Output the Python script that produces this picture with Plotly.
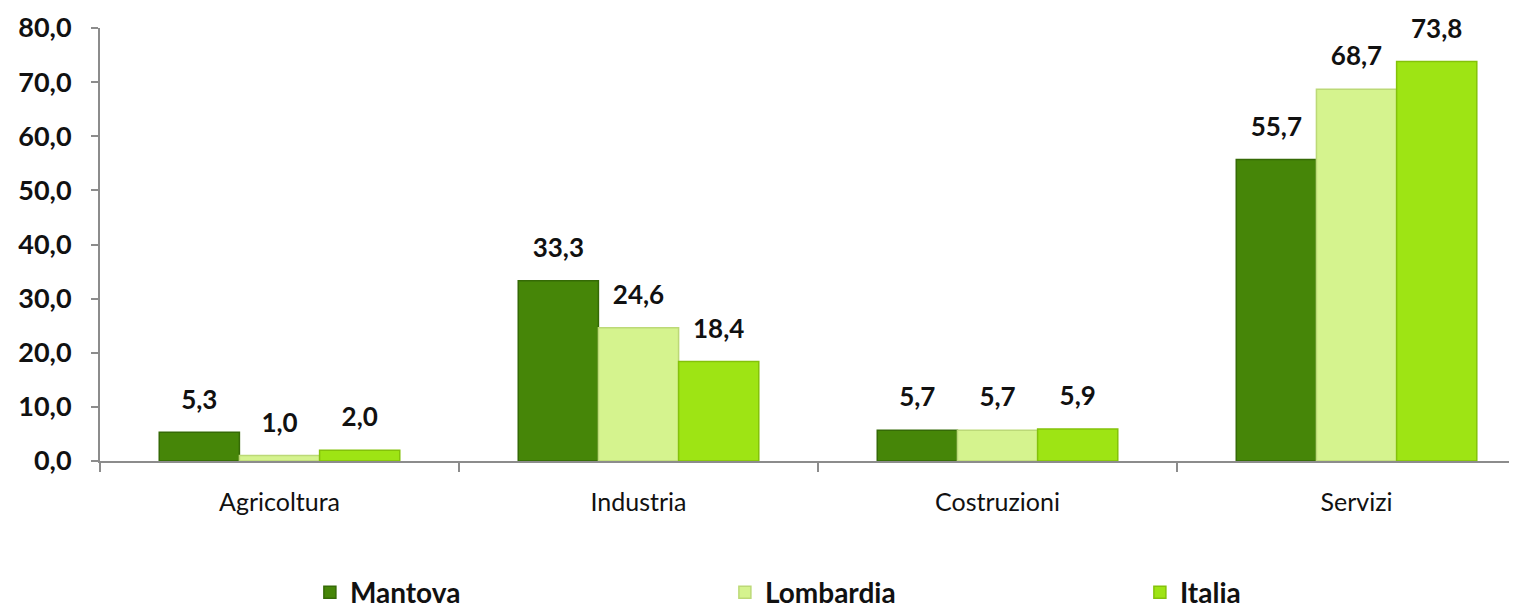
import plotly.graph_objects as go

categories = ["Agricoltura", "Industria", "Costruzioni", "Servizi"]
mantova = [5.3, 33.3, 5.7, 55.7]
lombardia = [1.0, 24.6, 5.7, 68.7]
italia = [2.0, 18.4, 5.9, 73.8]
y_ticks = [0, 10, 20, 30, 40, 50, 60, 70, 80]

series = [
    ("Mantova", mantova, "#468608", "#356a06"),
    ("Lombardia", lombardia, "#d5f38e", "#bcd977"),
    ("Italia", italia, "#9ee414", "#84c20a"),
]

FONT = "Lato"

fig = go.Figure()
for name, vals, col, line in series:
    fig.add_trace(go.Bar(
        name=name,
        x=categories,
        y=vals,
        offsetgroup=name,
        marker=dict(color=col, line=dict(color=line, width=1.5)),
        hoverinfo="skip",
    ))
for name, vals, col, line in series:
    fig.add_trace(go.Scatter(
        x=categories,
        y=vals,
        offsetgroup=name,
        mode="markers+text",
        marker=dict(size=26, opacity=0),
        text=[f"{v:.1f}".replace(".", ",") for v in vals],
        textposition="top center",
        textfont=dict(family=FONT, size=26, color="#111111", weight="bold"),
        cliponaxis=False,
        showlegend=False,
        hoverinfo="skip",
    ))

fig.update_layout(
    width=1517, height=609,
    margin=dict(l=92, r=8, t=20, b=156),
    paper_bgcolor="white", plot_bgcolor="white",
    barmode="group", bargap=0.33, bargroupgap=0,
    scattermode="group", scattergap=0.33,
    separators=",.",
    showlegend=True,
    legend=dict(
        orientation="h", xref="container", yref="container",
        x=0.199, y=0.040, xanchor="left", yanchor="middle",
        entrywidth=370, entrywidthmode="pixels",
        font=dict(family=FONT, size=28, color="#111111", weight="bold"),
        itemwidth=30,
    ),
    xaxis=dict(
        range=[-0.5, 3.447], automargin=False,
        showline=True, linecolor="#8c8c8c", linewidth=2,
        ticks="outside", tickson="boundaries", ticklen=9, tickcolor="#8c8c8c", tickwidth=1.5,
        ticklabelstandoff=18,
        tickfont=dict(family=FONT, size=25, color="#111111"),
        showgrid=False,
    ),
    yaxis=dict(
        range=[0, 80], tickvals=y_ticks, tickformat=".1f", automargin=False,
        showline=True, linecolor="#8c8c8c", linewidth=2,
        ticks="outside", ticklen=7, tickcolor="#8c8c8c", tickwidth=1.5,
        ticklabelstandoff=14,
        tickfont=dict(family=FONT, size=27, color="#111111", weight="bold"),
        showgrid=False, zeroline=False,
    ),
)

fig.write_html("out.html")
